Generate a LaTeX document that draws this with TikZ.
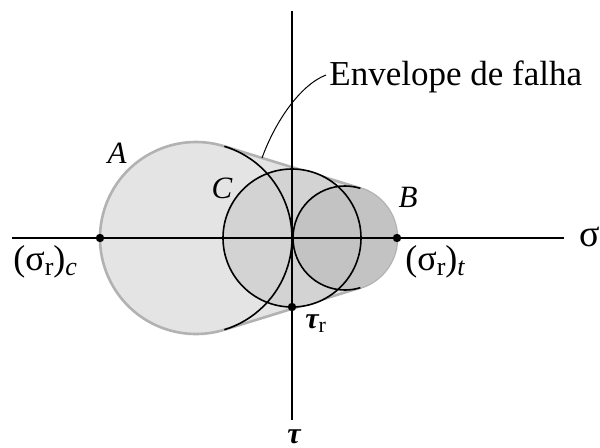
\documentclass[tikz,border=0pt]{standalone}
\usepackage{fontspec}
\setmainfont{Liberation Serif}
\usetikzlibrary{calc}
\definecolor{envfill}{HTML}{E4E4E4}
\definecolor{cfill}{HTML}{D3D3D3}
\definecolor{bfill}{HTML}{C3C3C3}
\definecolor{envline}{HTML}{B2B2B2}
\newcommand{\sub}[1]{\raisebox{-0.35ex}{\fontsize{13}{14}\selectfont #1}}
\newcommand{\subs}[1]{\raisebox{-0.35ex}{\fontsize{11}{12}\selectfont #1}}
\begin{document}
\begin{tikzpicture}[x=0.5pt,y=0.5pt,
  blackline/.style={draw=black,line width=0.8pt},
  axisline/.style={draw=black,line width=0.75pt},
  dotnode/.style={circle,fill=black,inner sep=0pt,minimum size=4.2pt},
  lbl/.style={inner sep=0pt,font=\fontsize{15.5}{18}\selectfont\itshape},
  pt/.style={inner sep=0pt,font=\fontsize{18}{20}\selectfont}]
\useasboundingbox (0,0) rectangle (600,447);
\coordinate (cA) at (196,209);
\coordinate (cB) at (345,209);
\coordinate (cC) at (292,209);
% envelope
\path[fill=envfill,draw=envline,line width=1.3pt]
  ($(cA)+(72.82:96)$) arc[start angle=72.82,end angle=287.18,radius=96]
  -- ($(cB)+(-72.82:52)$) arc[start angle=-72.82,end angle=72.82,radius=52] -- cycle;
\fill[cfill] (cC) circle[radius=69];
\fill[bfill] (cB) circle[radius=52];
% black arcs
\draw[blackline] (cC) circle[radius=69];
\draw[blackline] ($(cA)+(72.82:96)$) arc[start angle=72.82,end angle=-72.82,radius=96];
\draw[blackline] ($(cB)+(72.82:52)$) arc[start angle=72.82,end angle=287.18,radius=52];
% axes
\coordinate (xl) at (12,209);
\coordinate (xr) at (564,209);
\coordinate (yt) at (292,436);
\coordinate (yb) at (292,27);
\draw[axisline] (xl) -- (xr);
\draw[axisline] (yt) -- (yb);
% points
\node[dotnode] (pc) at (100,209) {};
\node[dotnode] (pt) at (397,209) {};
\node[dotnode] (pr) at (292,140) {};
% labels
\node[pt,anchor=base west] (lc) at (13,177) {(σ\sub{r})\sub{\textit{c}}};
\node[pt,anchor=base west] (lt) at (405,177) {(σ\sub{r})\sub{\textit{t}}};
\node[inner sep=0pt,anchor=base,font=\fontsize{19}{20}\selectfont] (sig) at (590,201) {σ};
\node[inner sep=0pt,anchor=base,font=\fontsize{15}{16}\selectfont\bfseries\itshape] (tau) at (294,4) {τ};
\node[inner sep=0pt,anchor=base west] (taur) at (305,119) {\fontsize{15}{18}\selectfont\bfseries\itshape τ\subs{\normalfont r}};
\node[lbl,anchor=base] (la) at (117,284) {A};
\node[lbl,anchor=base] (lb) at (408,240) {B};
\node[lbl,anchor=base] (lcc) at (222,249) {C};
% leader
\coordinate (lead) at (262,289);
\node[inner sep=0pt,anchor=base west,font=\fontsize{17.5}{20}\selectfont] (env) at (329,362) {Envelope de falha};
\draw[line width=0.5pt] (lead) .. controls (275,325) and (300,362) .. (326,372);
\end{tikzpicture}
\end{document}
